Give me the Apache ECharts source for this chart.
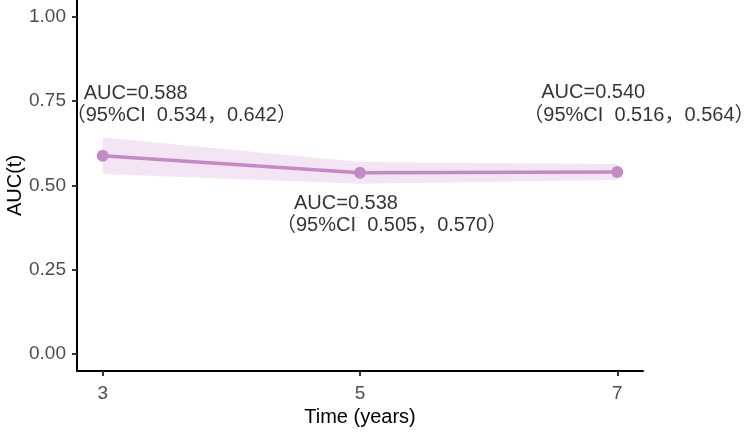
<!DOCTYPE html>
<html>
<head>
<meta charset="utf-8">
<script src="https://cdn.jsdelivr.net/npm/echarts@6/dist/echarts.min.js"></script>
<style>
html,body{margin:0;padding:0;background:#fff;}
#chart{width:744px;height:433px;}
</style>
</head>
<body>
<div id="chart"></div>
<script>
// ---- data ----
const years = [3, 5, 7];
const auc = [0.588, 0.538, 0.540];
const ciLow = [0.534, 0.505, 0.516];
const ciHigh = [0.642, 0.570, 0.564];
const xTicks = [3, 5, 7];
const yTicks = [0, 0.25, 0.5, 0.75, 1];

// ---- layout of annotation lines (pixel offsets from each point) ----
const line1Offset = [[-19, -62], [-66, 31], [-76, -80]];
const line2Offset = [[-37, -40], [-84, 53], [-94, -57]];

const fontFam = "'Liberation Sans', Arial, 'Noto Sans CJK SC', sans-serif";
const lineColor = '#C38AC4';
const bandColor = '#F3E5F3';

const chart = echarts.init(document.getElementById('chart'), null, {renderer: 'canvas'});

const aucLabelData = years.map((x, i) => ({
  value: [x, auc[i]],
  label: {offset: line1Offset[i]},
  name: 'AUC=' + auc[i].toFixed(3)
}));
const ciLabelData = years.map((x, i) => ({
  value: [x, auc[i]],
  label: {offset: line2Offset[i]},
  name: '（95%CI  ' + ciLow[i].toFixed(3) + '，' + ciHigh[i].toFixed(3) + '）'
}));

const labelSeries = (data) => ({
  type: 'scatter',
  data: data,
  symbolSize: 1,
  itemStyle: {color: 'transparent'},
  silent: true,
  z: 10,
  label: {
    show: true,
    position: 'inside',
    align: 'left',
    verticalAlign: 'middle',
    formatter: p => p.name,
    fontFamily: fontFam,
    fontSize: 20,
    color: '#000'
  }
});

// band data: [x, low, high]
const bandData = years.map((x, i) => [x, ciLow[i], ciHigh[i]]);

chart.setOption({
  animation: false,
  backgroundColor: '#fff',
  grid: {left: 77, right: 101, top: 0, bottom: 62, containLabel: false, outerBoundsMode: 'none'},
  xAxis: {
    type: 'value',
    min: 2.8,
    max: 7.2,
    name: 'Time (years)',
    nameLocation: 'middle',
    nameGap: 36,
    nameMoveOverlap: false,
    nameTextStyle: {fontFamily: fontFam, fontSize: 20, color: '#000'},
    axisLine: {show: true, onZero: false, lineStyle: {color: '#000', width: 2}},
    axisTick: {show: true, length: 5, customValues: xTicks, lineStyle: {color: '#333', width: 2}},
    axisLabel: {customValues: xTicks, margin: 13, fontFamily: fontFam, fontSize: 19, color: '#4D4D4D'},
    splitLine: {show: false}
  },
  yAxis: {
    type: 'value',
    min: -0.05,
    max: 1.05,
    name: 'AUC(t)',
    nameLocation: 'middle',
    nameGap: 52,
    nameRotate: 90,
    nameMoveOverlap: false,
    nameTextStyle: {fontFamily: fontFam, fontSize: 20, color: '#000'},
    axisLine: {show: true, onZero: false, lineStyle: {color: '#000', width: 2}},
    axisTick: {show: true, length: 5, customValues: yTicks, lineStyle: {color: '#333', width: 2}},
    axisLabel: {customValues: yTicks, margin: 11, fontFamily: fontFam, fontSize: 19, color: '#4D4D4D',
      formatter: v => v.toFixed(2)},
    splitLine: {show: false}
  },
  series: [
    {
      type: 'custom',
      data: bandData,
      silent: true,
      z: 1,
      renderItem: function (params, api) {
        if (params.dataIndex !== 0) return null;
        const upper = [], lower = [];
        for (let i = 0; i < bandData.length; i++) {
          upper.push(api.coord([bandData[i][0], bandData[i][2]]));
          lower.push(api.coord([bandData[i][0], bandData[i][1]]));
        }
        return {
          type: 'polygon',
          shape: {points: upper.concat(lower.reverse())},
          style: {fill: bandColor}
        };
      },
      encode: {x: 0, y: [1, 2]}
    },
    {
      type: 'line',
      data: years.map((x, i) => [x, auc[i]]),
      symbol: 'circle',
      symbolSize: 12,
      itemStyle: {color: lineColor},
      lineStyle: {color: lineColor, width: 3.5},
      z: 5
    },
    labelSeries(aucLabelData),
    labelSeries(ciLabelData)
  ]
});
</script>
</body>
</html>
